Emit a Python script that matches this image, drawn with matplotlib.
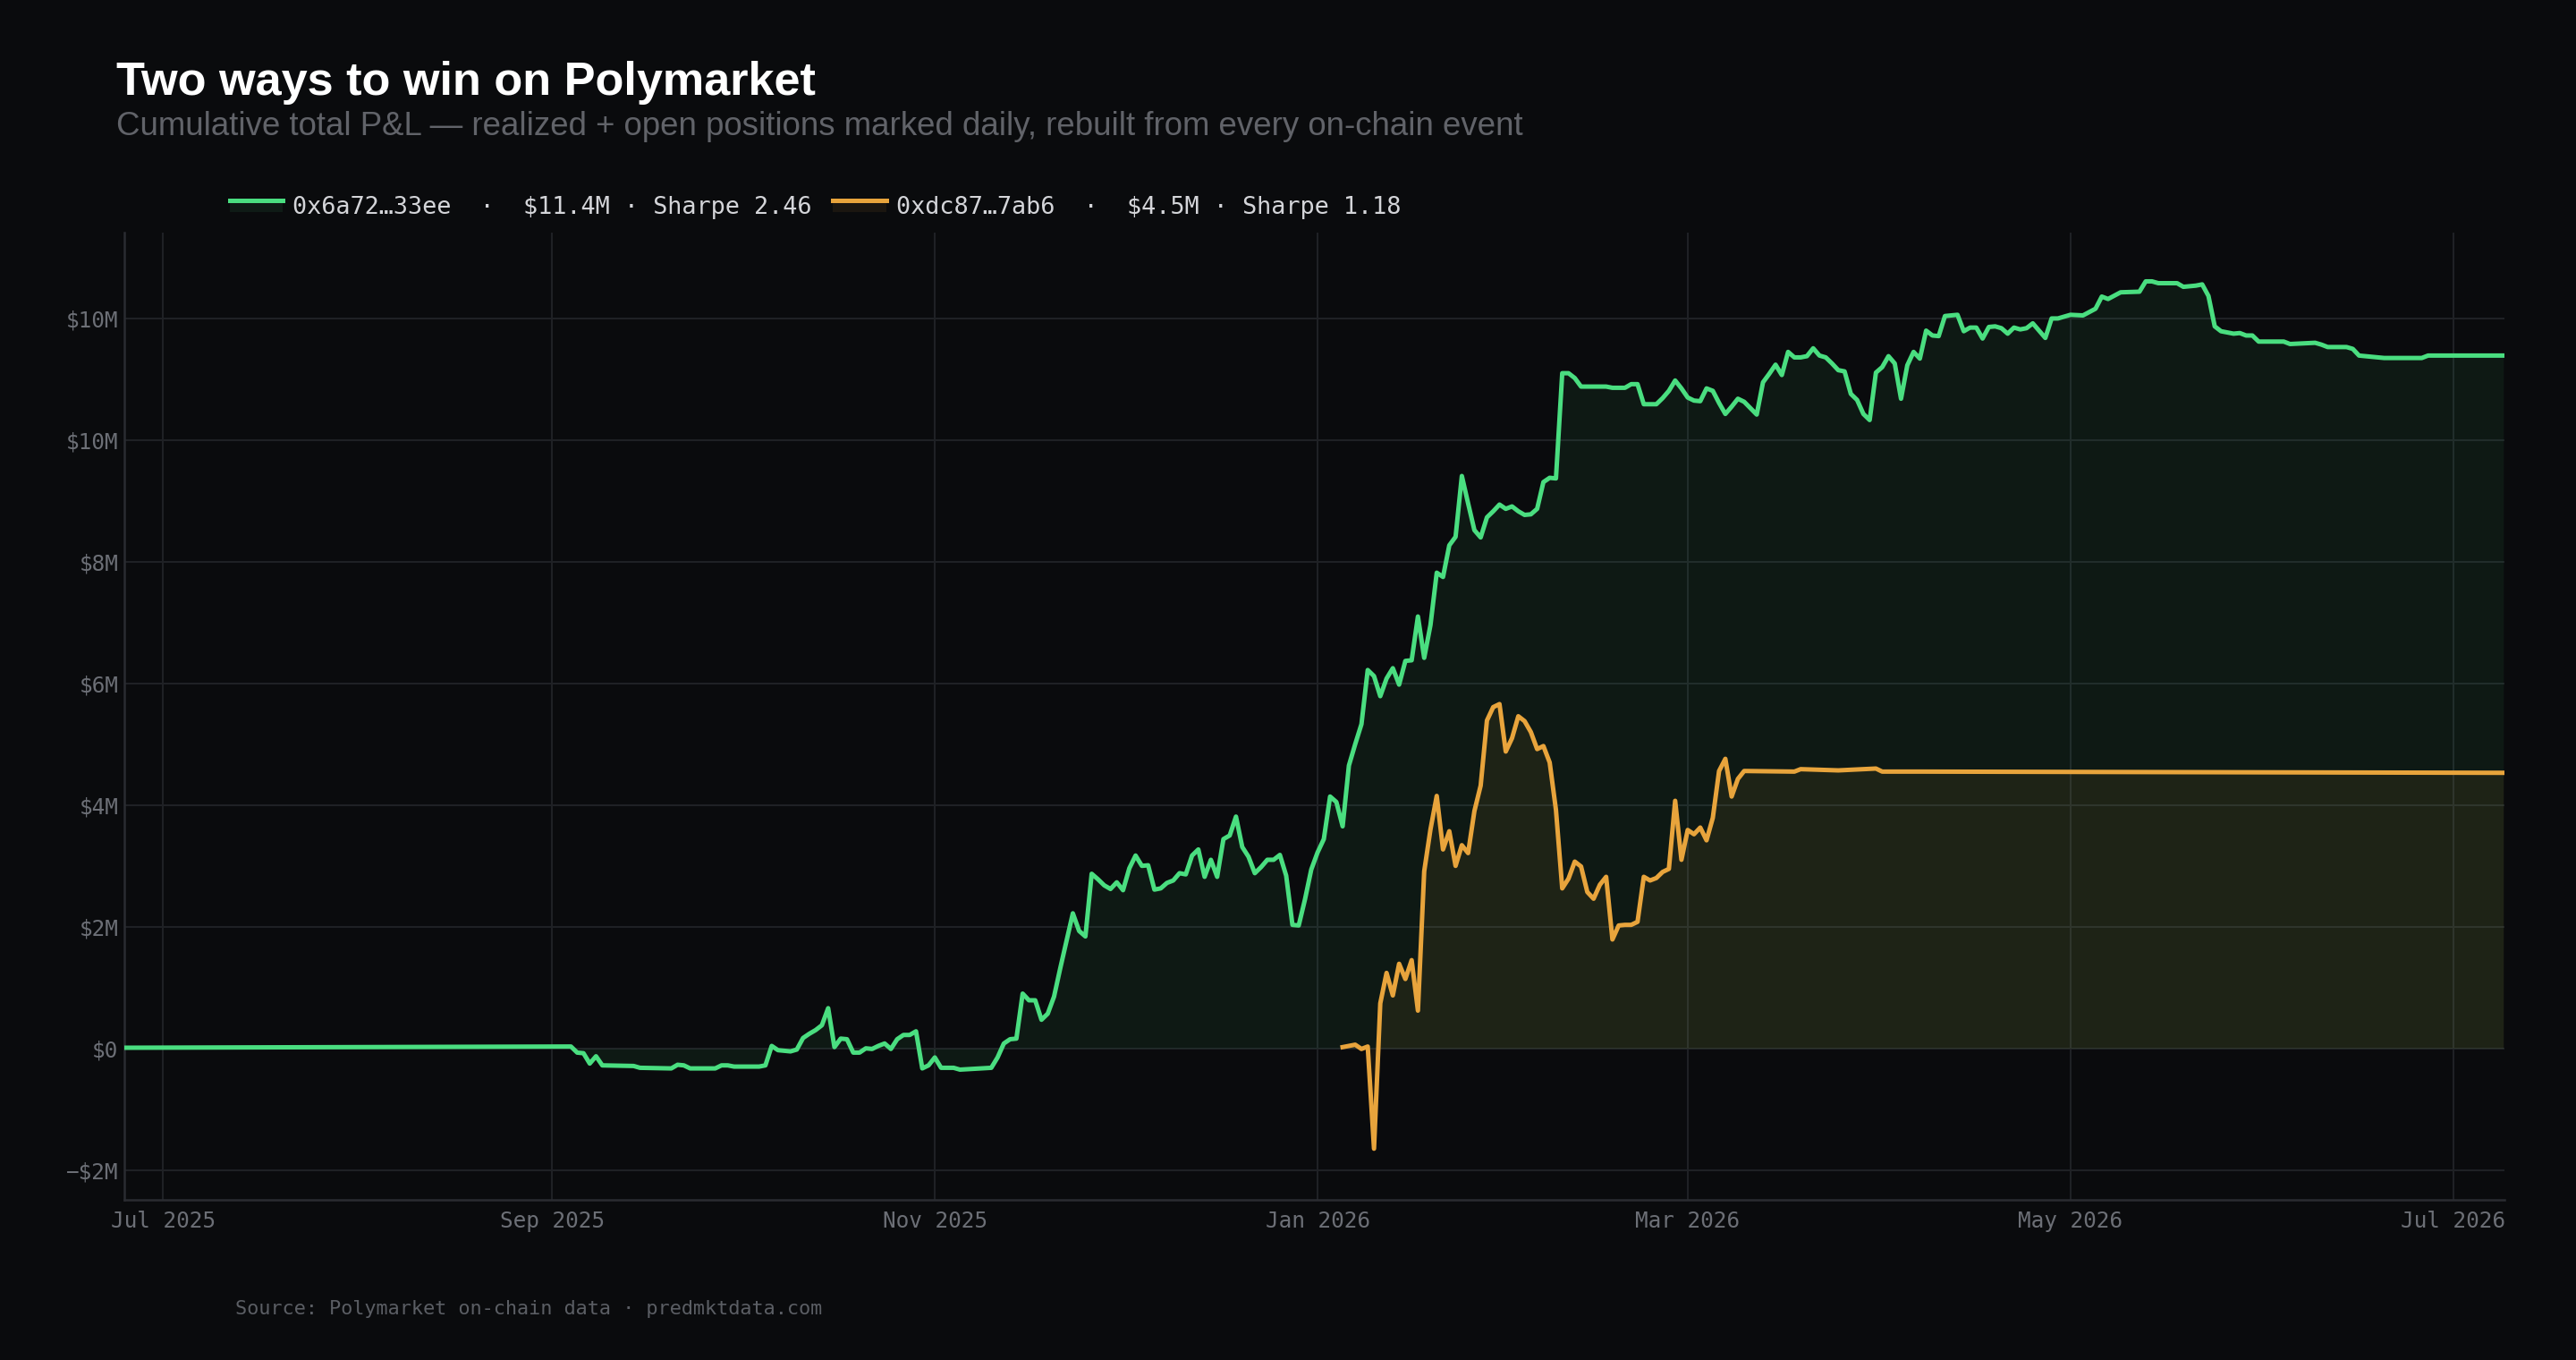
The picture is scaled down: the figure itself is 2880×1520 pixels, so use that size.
import matplotlib
matplotlib.use('Agg')
import pandas as pd
import matplotlib.dates as mdates
from matplotlib import pyplot as plt
from matplotlib.lines import Line2D
from matplotlib.patches import Rectangle

# Wallet A (green) - cumulative P&L in $M
green_dates = [
    '2025-06-25', '2025-09-04', '2025-09-05', '2025-09-06', '2025-09-07', '2025-09-08',
    '2025-09-09', '2025-09-14', '2025-09-15', '2025-09-20', '2025-09-21', '2025-09-22',
    '2025-09-23', '2025-09-27', '2025-09-28', '2025-09-29', '2025-09-30', '2025-10-04',
    '2025-10-05', '2025-10-06', '2025-10-07', '2025-10-09', '2025-10-10', '2025-10-11',
    '2025-10-12', '2025-10-13', '2025-10-14', '2025-10-15', '2025-10-16', '2025-10-17',
    '2025-10-18', '2025-10-19', '2025-10-20', '2025-10-21', '2025-10-22', '2025-10-23',
    '2025-10-24', '2025-10-25', '2025-10-26', '2025-10-27', '2025-10-28', '2025-10-29',
    '2025-10-30', '2025-10-31', '2025-11-01', '2025-11-02', '2025-11-04', '2025-11-05',
    '2025-11-10', '2025-11-11', '2025-11-12', '2025-11-13', '2025-11-14', '2025-11-15',
    '2025-11-16', '2025-11-17', '2025-11-18', '2025-11-19', '2025-11-20', '2025-11-21',
    '2025-11-22', '2025-11-23', '2025-11-24', '2025-11-25', '2025-11-26', '2025-11-27',
    '2025-11-28', '2025-11-29', '2025-11-30', '2025-12-01', '2025-12-02', '2025-12-03',
    '2025-12-04', '2025-12-05', '2025-12-06', '2025-12-07', '2025-12-08', '2025-12-09',
    '2025-12-10', '2025-12-11', '2025-12-12', '2025-12-13', '2025-12-14', '2025-12-15',
    '2025-12-16', '2025-12-17', '2025-12-18', '2025-12-19', '2025-12-20', '2025-12-21',
    '2025-12-22', '2025-12-23', '2025-12-24', '2025-12-25', '2025-12-26', '2025-12-27',
    '2025-12-28', '2025-12-29', '2025-12-30', '2025-12-31', '2026-01-01', '2026-01-02',
    '2026-01-03', '2026-01-04', '2026-01-05', '2026-01-06', '2026-01-07', '2026-01-08',
    '2026-01-09', '2026-01-10', '2026-01-11', '2026-01-12', '2026-01-13', '2026-01-14',
    '2026-01-15', '2026-01-16', '2026-01-17', '2026-01-18', '2026-01-19', '2026-01-20',
    '2026-01-21', '2026-01-22', '2026-01-23', '2026-01-24', '2026-01-25', '2026-01-26',
    '2026-01-27', '2026-01-28', '2026-01-29', '2026-01-30', '2026-01-31', '2026-02-01',
    '2026-02-02', '2026-02-03', '2026-02-04', '2026-02-05', '2026-02-06', '2026-02-07',
    '2026-02-08', '2026-02-09', '2026-02-10', '2026-02-11', '2026-02-12', '2026-02-16',
    '2026-02-17', '2026-02-19', '2026-02-20', '2026-02-21', '2026-02-22', '2026-02-24',
    '2026-02-25', '2026-02-26', '2026-02-27', '2026-02-28', '2026-03-01', '2026-03-02',
    '2026-03-03', '2026-03-04', '2026-03-05', '2026-03-06', '2026-03-07', '2026-03-08',
    '2026-03-09', '2026-03-10', '2026-03-12', '2026-03-13', '2026-03-14', '2026-03-15',
    '2026-03-16', '2026-03-17', '2026-03-18', '2026-03-19', '2026-03-20', '2026-03-21',
    '2026-03-22', '2026-03-23', '2026-03-24', '2026-03-25', '2026-03-26', '2026-03-27',
    '2026-03-28', '2026-03-29', '2026-03-30', '2026-03-31', '2026-04-01', '2026-04-02',
    '2026-04-03', '2026-04-04', '2026-04-05', '2026-04-06', '2026-04-07', '2026-04-08',
    '2026-04-09', '2026-04-10', '2026-04-11', '2026-04-12', '2026-04-13', '2026-04-14',
    '2026-04-15', '2026-04-16', '2026-04-17', '2026-04-18', '2026-04-19', '2026-04-20',
    '2026-04-21', '2026-04-22', '2026-04-23', '2026-04-24', '2026-04-25', '2026-04-26',
    '2026-04-27', '2026-04-28', '2026-04-29', '2026-04-30', '2026-05-01', '2026-05-03',
    '2026-05-05', '2026-05-06', '2026-05-07', '2026-05-09', '2026-05-12', '2026-05-13',
    '2026-05-14', '2026-05-15', '2026-05-18', '2026-05-19', '2026-05-21', '2026-05-22',
    '2026-05-23', '2026-05-24', '2026-05-25', '2026-05-27', '2026-05-28', '2026-05-29',
    '2026-05-30', '2026-05-31', '2026-06-04', '2026-06-05', '2026-06-09', '2026-06-10',
    '2026-06-11', '2026-06-14', '2026-06-15', '2026-06-16', '2026-06-20', '2026-06-26',
    '2026-06-27', '2026-07-09',
]
green_pnl = [
    0.01, 0.03, -0.07, -0.08, -0.25, -0.13,
    -0.28, -0.29, -0.32, -0.33, -0.27, -0.28,
    -0.33, -0.33, -0.28, -0.28, -0.30, -0.30,
    -0.28, 0.04, -0.03, -0.05, -0.02, 0.17,
    0.24, 0.30, 0.38, 0.66, 0.02, 0.16,
    0.15, -0.07, -0.07, 0.00, -0.01, 0.04,
    0.08, -0.01, 0.15, 0.22, 0.22, 0.28,
    -0.33, -0.28, -0.15, -0.32, -0.32, -0.35,
    -0.32, -0.15, 0.08, 0.15, 0.16, 0.90,
    0.79, 0.79, 0.47, 0.57, 0.85, 1.32,
    1.77, 2.22, 1.93, 1.84, 2.87, 2.78,
    2.68, 2.62, 2.73, 2.60, 2.96, 3.17,
    3.00, 3.01, 2.61, 2.63, 2.72, 2.76,
    2.88, 2.86, 3.17, 3.27, 2.82, 3.10,
    2.82, 3.44, 3.50, 3.81, 3.31, 3.15,
    2.88, 2.98, 3.10, 3.10, 3.18, 2.84,
    2.03, 2.02, 2.45, 2.94, 3.22, 3.44,
    4.14, 4.05, 3.65, 4.65, 5.00, 5.33,
    6.22, 6.12, 5.79, 6.08, 6.25, 5.98,
    6.37, 6.38, 7.10, 6.42, 6.96, 7.82,
    7.75, 8.27, 8.41, 9.41, 8.96, 8.52,
    8.40, 8.73, 8.83, 8.94, 8.87, 8.91,
    8.83, 8.77, 8.78, 8.87, 9.31, 9.38,
    9.37, 11.10, 11.10, 11.02, 10.88, 10.88,
    10.86, 10.86, 10.92, 10.92, 10.59, 10.59,
    10.69, 10.81, 10.98, 10.85, 10.70, 10.65,
    10.64, 10.85, 10.81, 10.61, 10.43, 10.55,
    10.68, 10.63, 10.42, 10.95, 11.09, 11.24,
    11.07, 11.45, 11.36, 11.36, 11.38, 11.51,
    11.39, 11.36, 11.26, 11.15, 11.13, 10.76,
    10.66, 10.43, 10.33, 11.11, 11.20, 11.38,
    11.26, 10.68, 11.23, 11.45, 11.34, 11.80,
    11.72, 11.71, 12.04, 12.05, 12.06, 11.79,
    11.85, 11.85, 11.67, 11.86, 11.87, 11.84,
    11.75, 11.85, 11.82, 11.84, 11.92, 11.80,
    11.68, 12.00, 12.00, 12.03, 12.06, 12.05,
    12.16, 12.36, 12.32, 12.43, 12.44, 12.61,
    12.61, 12.58, 12.58, 12.52, 12.54, 12.56,
    12.37, 11.87, 11.79, 11.75, 11.76, 11.72,
    11.72, 11.62, 11.62, 11.58, 11.60, 11.57,
    11.53, 11.53, 11.50, 11.39, 11.35, 11.35,
    11.39, 11.39,
]

# Wallet B (orange) - cumulative P&L in $M
orange_dates = [
    '2026-01-05', '2026-01-07', '2026-01-08', '2026-01-09', '2026-01-10', '2026-01-11',
    '2026-01-12', '2026-01-13', '2026-01-14', '2026-01-15', '2026-01-16', '2026-01-17',
    '2026-01-18', '2026-01-19', '2026-01-20', '2026-01-21', '2026-01-22', '2026-01-23',
    '2026-01-24', '2026-01-25', '2026-01-26', '2026-01-27', '2026-01-28', '2026-01-29',
    '2026-01-30', '2026-01-31', '2026-02-01', '2026-02-02', '2026-02-03', '2026-02-04',
    '2026-02-05', '2026-02-06', '2026-02-07', '2026-02-08', '2026-02-09', '2026-02-10',
    '2026-02-11', '2026-02-12', '2026-02-13', '2026-02-14', '2026-02-15', '2026-02-16',
    '2026-02-17', '2026-02-18', '2026-02-19', '2026-02-20', '2026-02-21', '2026-02-22',
    '2026-02-23', '2026-02-24', '2026-02-25', '2026-02-26', '2026-02-27', '2026-02-28',
    '2026-03-01', '2026-03-02', '2026-03-03', '2026-03-04', '2026-03-05', '2026-03-06',
    '2026-03-07', '2026-03-08', '2026-03-09', '2026-03-10', '2026-03-18', '2026-03-19',
    '2026-03-25', '2026-03-31', '2026-04-01', '2026-04-07', '2026-07-09',
]
orange_pnl = [
    0.02, 0.06, -0.01, 0.03, -1.65, 0.74,
    1.24, 0.87, 1.39, 1.14, 1.45, 0.62,
    2.91, 3.60, 4.15, 3.27, 3.57, 3.00,
    3.34, 3.21, 3.90, 4.32, 5.39, 5.61,
    5.66, 4.88, 5.10, 5.46, 5.38, 5.20,
    4.92, 4.97, 4.70, 3.92, 2.63, 2.79,
    3.07, 2.99, 2.57, 2.46, 2.69, 2.82,
    1.79, 2.02, 2.03, 2.03, 2.08, 2.82,
    2.76, 2.80, 2.90, 2.95, 4.07, 3.10,
    3.59, 3.52, 3.63, 3.42, 3.79, 4.56,
    4.76, 4.14, 4.43, 4.56, 4.55, 4.59,
    4.57, 4.60, 4.55, 4.55, 4.53,
]

legend_labels = ['0x6a72…33ee  ·  $11.4M · Sharpe 2.46',
                 '0xdc87…7ab6  ·  $4.5M · Sharpe 1.18']
y_ticks = [-2, 0, 2, 4, 6, 8, 10, 12]
y_tick_labels = ['−$2M', '$0', '$2M', '$4M', '$6M', '$8M', '$10M', '$10M']

BG = '#0a0b0d'
GREEN = '#4ade80'
ORANGE = '#e8a43c'
GRID = '#1f2125'
TICK = '#6c6f76'
MONO = 'DejaVu Sans Mono'

g_x = pd.to_datetime(green_dates)
o_x = pd.to_datetime(orange_dates)
g_y = [v * 1e6 for v in green_pnl]
o_y = [v * 1e6 for v in orange_pnl]

fig = plt.figure(figsize=(14.4, 7.6), dpi=200, facecolor=BG)
ax = fig.add_axes([0.0483, 0.1178, 0.9239, 0.7111], facecolor=BG)

# fills first, then lines
ax.fill_between(g_x, g_y, 0, color=GREEN, alpha=0.065, lw=0, zorder=2)
ax.fill_between(o_x, o_y, 0, color=ORANGE, alpha=0.075, lw=0, zorder=2)
ax.plot(g_x, g_y, color=GREEN, lw=1.8, zorder=4)
ax.plot(o_x, o_y, color=ORANGE, lw=1.8, zorder=4)

ax.set_xlim(pd.Timestamp('2025-06-24 20:00'), pd.Timestamp('2026-07-09 04:00'))
ax.set_ylim(-2.49e6, 13.41e6)

ax.set_yticks([t * 1e6 for t in y_ticks])
ax.set_yticklabels(y_tick_labels)
ax.xaxis.set_major_locator(mdates.MonthLocator(bymonth=[1, 3, 5, 7, 9, 11]))
ax.xaxis.set_major_formatter(mdates.DateFormatter('%b %Y'))

ax.grid(True, color=GRID, lw=0.75, zorder=0)
ax.set_axisbelow(True)
ax.tick_params(length=0, colors=TICK, labelsize=8.8)
ax.tick_params(axis='x', pad=4.3)
ax.tick_params(axis='y', pad=2.4)
for lab in ax.get_xticklabels() + ax.get_yticklabels():
    lab.set_fontfamily(MONO)

for s in ['top', 'right']:
    ax.spines[s].set_visible(False)
for s in ['left', 'bottom']:
    ax.spines[s].set_color('#2a2c31')
    ax.spines[s].set_linewidth(0.9)

# titles
fig.text(0.0451, 0.9305, 'Two ways to win on Polymarket', color='white',
         fontsize=18.8, fontweight='bold', family='Liberation Sans', va='baseline')
fig.text(0.0451, 0.9007,
         'Cumulative total P&L — realized + open positions marked daily, rebuilt from every on-chain event',
         color='#616369', fontsize=13.2, family='Liberation Sans', va='baseline')

# legend, drawn by hand: line on top, fill swatch under it
W, H = 2880.0, 1520.0
for (x0, x1, tx), col, lab in zip([(257, 316, 327), (931, 991, 1002)],
                                  [GREEN, ORANGE], legend_labels):
    fig.add_artist(Rectangle((x0 / W, 1 - 237 / H), (x1 - x0) / W, 11 / H,
                             transform=fig.transFigure, color=col, alpha=0.08, lw=0))
    fig.add_artist(Line2D([x0 / W, x1 / W], [1 - 224 / H, 1 - 224 / H],
                          transform=fig.transFigure, color=col, lw=1.8))
    fig.text(tx / W, 1 - 239.3 / H, lab, color='#d4d5d9', fontsize=9.7,
             family=MONO, va='baseline')

fig.text(263 / W, 1 - 1469.3 / H, 'Source: Polymarket on-chain data · predmktdata.com',
         color='#5b5e64', fontsize=7.9, family=MONO, va='baseline')

fig.savefig('out.png', dpi=200, facecolor=BG)
